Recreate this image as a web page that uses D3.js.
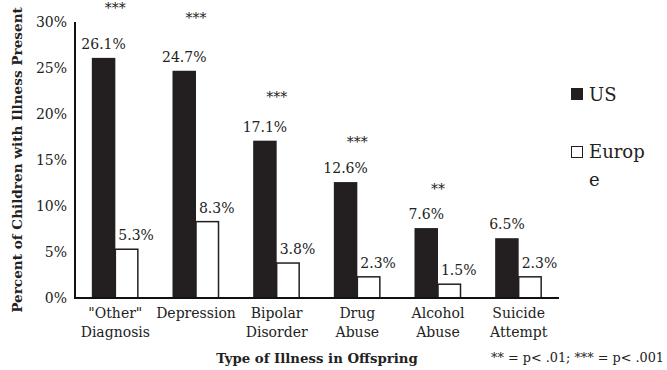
<!DOCTYPE html>
<html><head><meta charset="utf-8">
<script src="https://cdn.jsdelivr.net/npm/d3@7"></script>
<style>body{margin:0;background:#fff}svg{display:block}text{font-family:"DejaVu Serif",serif;fill:#222}</style>
</head><body>
<script>
const categories = [['"Other"','Diagnosis'],['Depression'],['Bipolar','Disorder'],['Drug','Abuse'],['Alcohol','Abuse'],['Suicide','Attempt']];
const usValues = [26.1, 24.7, 17.1, 12.6, 7.6, 6.5];
const europeValues = [5.3, 8.3, 3.8, 2.3, 1.5, 2.3];
const significance = ['***', '***', '***', '***', '**', ''];
const significanceLevel = [31.8, 30.8, 22.2, 17.3, 12.2, null];
const yTicks = [0, 5, 10, 15, 20, 25, 30];
const seriesNames = ['US', 'Europe'];

(function(){
const W = 667, H = 370;
const svg = d3.select('body').append('svg').attr('width', W).attr('height', H);
const mLeft = 75, mRight = 559, mTop = 22, mBottom = 298;
const x = d3.scaleBand().domain(d3.range(categories.length)).range([mLeft, mRight]);
const y = d3.scaleLinear().domain([0, 30]).range([mBottom, mTop]);
const bw = 23.5;

const yAxis = d3.axisLeft(y).tickValues(yTicks).tickFormat(d => d + '%').tickSize(0).tickPadding(8);
const gy = svg.append('g').attr('transform', `translate(${mLeft},0)`).call(yAxis);
gy.select('.domain').remove();
gy.selectAll('text').style('font-family','"DejaVu Serif",serif').style('font-size','14px').attr('fill','#222');

const g = svg.append('g');
g.selectAll('rect.us').data(usValues).join('rect').attr('class','us')
  .attr('x', (d,i) => x(i) + x.bandwidth()/2 - bw).attr('width', bw)
  .attr('y', d => y(d)).attr('height', d => mBottom - y(d)).attr('fill', '#231f20');
g.selectAll('rect.eu').data(europeValues).join('rect').attr('class','eu')
  .attr('x', (d,i) => x(i) + x.bandwidth()/2).attr('width', bw - 1)
  .attr('y', d => y(d)).attr('height', d => mBottom - y(d))
  .attr('fill', '#fff').attr('stroke', '#231f20').attr('stroke-width', 1.5);

g.selectAll('text.usl').data(usValues).join('text').attr('class','usl')
  .attr('x', (d,i) => x(i) + x.bandwidth()/2 - bw/2).attr('y', d => y(d) - 9)
  .attr('text-anchor','middle').style('font-size','14px').text(d => d.toFixed(1) + '%');
g.selectAll('text.eul').data(europeValues).join('text').attr('class','eul')
  .attr('x', (d,i) => x(i) + x.bandwidth()/2 + bw/2 + 9).attr('y', d => y(d) - 9)
  .attr('text-anchor','middle').style('font-size','14px').text(d => d.toFixed(1) + '%');

g.selectAll('text.sig').data(significance).join('text').attr('class','sig')
  .attr('x', (d,i) => x(i) + x.bandwidth()/2).attr('y', (d,i) => significanceLevel[i] == null ? 0 : y(significanceLevel[i]) + 8)
  .attr('text-anchor','middle').style('font-size','14px').text(d => d);

svg.append('line').attr('x1', mLeft).attr('x2', mLeft).attr('y1', mTop).attr('y2', mBottom + 1).attr('stroke','#111').attr('stroke-width',2);
svg.append('line').attr('x1', mLeft - 1).attr('x2', mRight).attr('y1', mBottom).attr('y2', mBottom).attr('stroke','#111').attr('stroke-width',2);

const cl = svg.append('g').selectAll('text').data(categories).join('text')
  .attr('x', (d,i) => x(i) + x.bandwidth()/2).attr('y', 318)
  .attr('text-anchor','middle').style('font-size','14px');
cl.selectAll('tspan').data(d => d).join('tspan')
  .attr('x', function(){ return this.parentNode.getAttribute('x'); })
  .attr('dy', (d,i) => i === 0 ? 0 : 19).text(d => d);

svg.append('text').attr('transform', `translate(22,${(mTop+mBottom)/2 + 0}) rotate(-90)`)
  .attr('text-anchor','middle').style('font-size','13.6px').style('font-weight','bold').text('Percent of Children with Illness Present');
svg.append('text').attr('x', 317).attr('y', 363).attr('text-anchor','middle')
  .style('font-size','13.3px').style('font-weight','bold').text('Type of Illness in Offspring');
svg.append('text').attr('x', 664).attr('y', 362).attr('text-anchor','end')
  .style('font-size','12.8px').text('** = p< .01; *** = p< .001');

const lg = svg.append('g');
lg.append('rect').attr('x', 571).attr('y', 88).attr('width', 12).attr('height', 12).attr('fill', '#231f20');
lg.append('text').attr('x', 589).attr('y', 101).style('font-size','18px').text(seriesNames[0]);
lg.append('rect').attr('x', 571.5).attr('y', 146.5).attr('width', 11).attr('height', 11).attr('fill', '#fff').attr('stroke','#231f20').attr('stroke-width',1);
lg.append('text').attr('x', 589).attr('y', 158).style('font-size','18px').text(seriesNames[1].slice(0,5));
lg.append('text').attr('x', 589).attr('y', 186).style('font-size','18px').text(seriesNames[1].slice(5));
})();
</script>
</body></html>
